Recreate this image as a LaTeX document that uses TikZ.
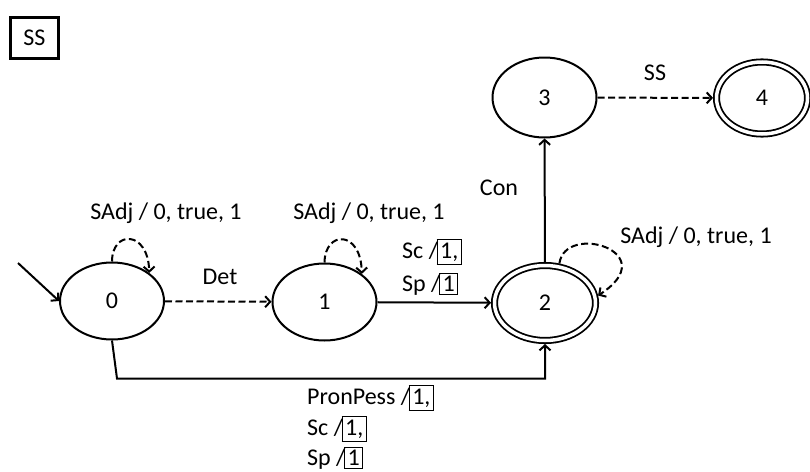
\documentclass[tikz,border=0pt]{standalone}
\usepackage{fontspec}
\setmainfont{Carlito}
\usetikzlibrary{shapes.geometric,arrows.meta}
\newcommand\bxn[1]{{\setlength\fboxsep{2.5pt}\setlength\fboxrule{1.1pt}\kern-1.5pt\fbox{#1}}}
\begin{document}
\begin{tikzpicture}[x=1pt,y=-1pt,
  every node/.style={font=\fontsize{24}{28}\selectfont},
  st/.style={ellipse,draw,line width=2pt,inner sep=0pt},
  acc/.style={ellipse,draw,line width=1.8pt,double,double distance=3.5pt,inner sep=0pt,outer sep=3.5pt},
  tr/.style={line width=2pt,-{Straight Barb[length=5pt,width=11pt,line width=2pt]}},
  dtr/.style={tr,dash pattern=on 7pt off 3.5pt},
  lbl/.style={inner sep=0pt}]
\useasboundingbox (0,0) rectangle (810,471);
% top-left box
\node[draw,line width=2.2pt,minimum width=48pt,minimum height=41pt,inner sep=0pt] (ss) at (34.5,38) {SS};
% states
\node[st,minimum width=104pt,minimum height=77pt] (n0) at (112,301) {0};
\node[st,minimum width=104pt,minimum height=77pt] (n1) at (324.5,302) {1};
\node[acc,minimum width=101pt,minimum height=75pt] (n2) at (545,303) {2};
\node[st,minimum width=104pt,minimum height=80pt] (n3) at (544.5,97.5) {3};
\node[acc,minimum width=91pt,minimum height=72pt] (n4) at (762,98) {4};
% initial arrow
\coordinate (i) at (18,263);
\draw[tr] (i) -- (n0.west);
% transitions
\draw[dtr] (n0) -- (n1);
\draw[tr] (n1) -- (n2);
\draw[tr] (n2) -- (n3);
\draw[dtr] (n3) -- (n4);
\draw[tr] (n0.south) -- ++(5,38) -| (n2.south);
% loops
\draw[dtr] (n0.north) .. controls (112,230) and (148,230) .. (n0.37);
\draw[dtr] (n1.north) .. controls (325,230) and (361,230) .. (n1.37);
\draw[dtr] (n2.70) .. controls (565,222) and (665,252) .. (n2.8);
% labels
\node[lbl] (l0) at (166,213) {SAdj / 0, true, 1};
\node[lbl] (l1) at (369,213) {SAdj / 0, true, 1};
\node[lbl] (l2) at (696,237) {SAdj / 0, true, 1};
\node[lbl] (ldet) at (220,277) {Det};
\node[lbl,anchor=west] (lsc) at (402,252) {Sc /\bxn{1,}};
\node[lbl,anchor=west] (lsp) at (402,284) {Sp /\bxn{1}};
\node[lbl] (lcon) at (499,188) {Con};
\node[lbl] (lss) at (655,73) {SS};
\node[lbl,anchor=west] (lpp) at (307,398) {PronPess /\bxn{1,}};
\node[lbl,anchor=west] (lsc2) at (307,429) {Sc /\bxn{1,}};
\node[lbl,anchor=west] (lsp2) at (307,458) {Sp /\bxn{1}};
\end{tikzpicture}
\end{document}
